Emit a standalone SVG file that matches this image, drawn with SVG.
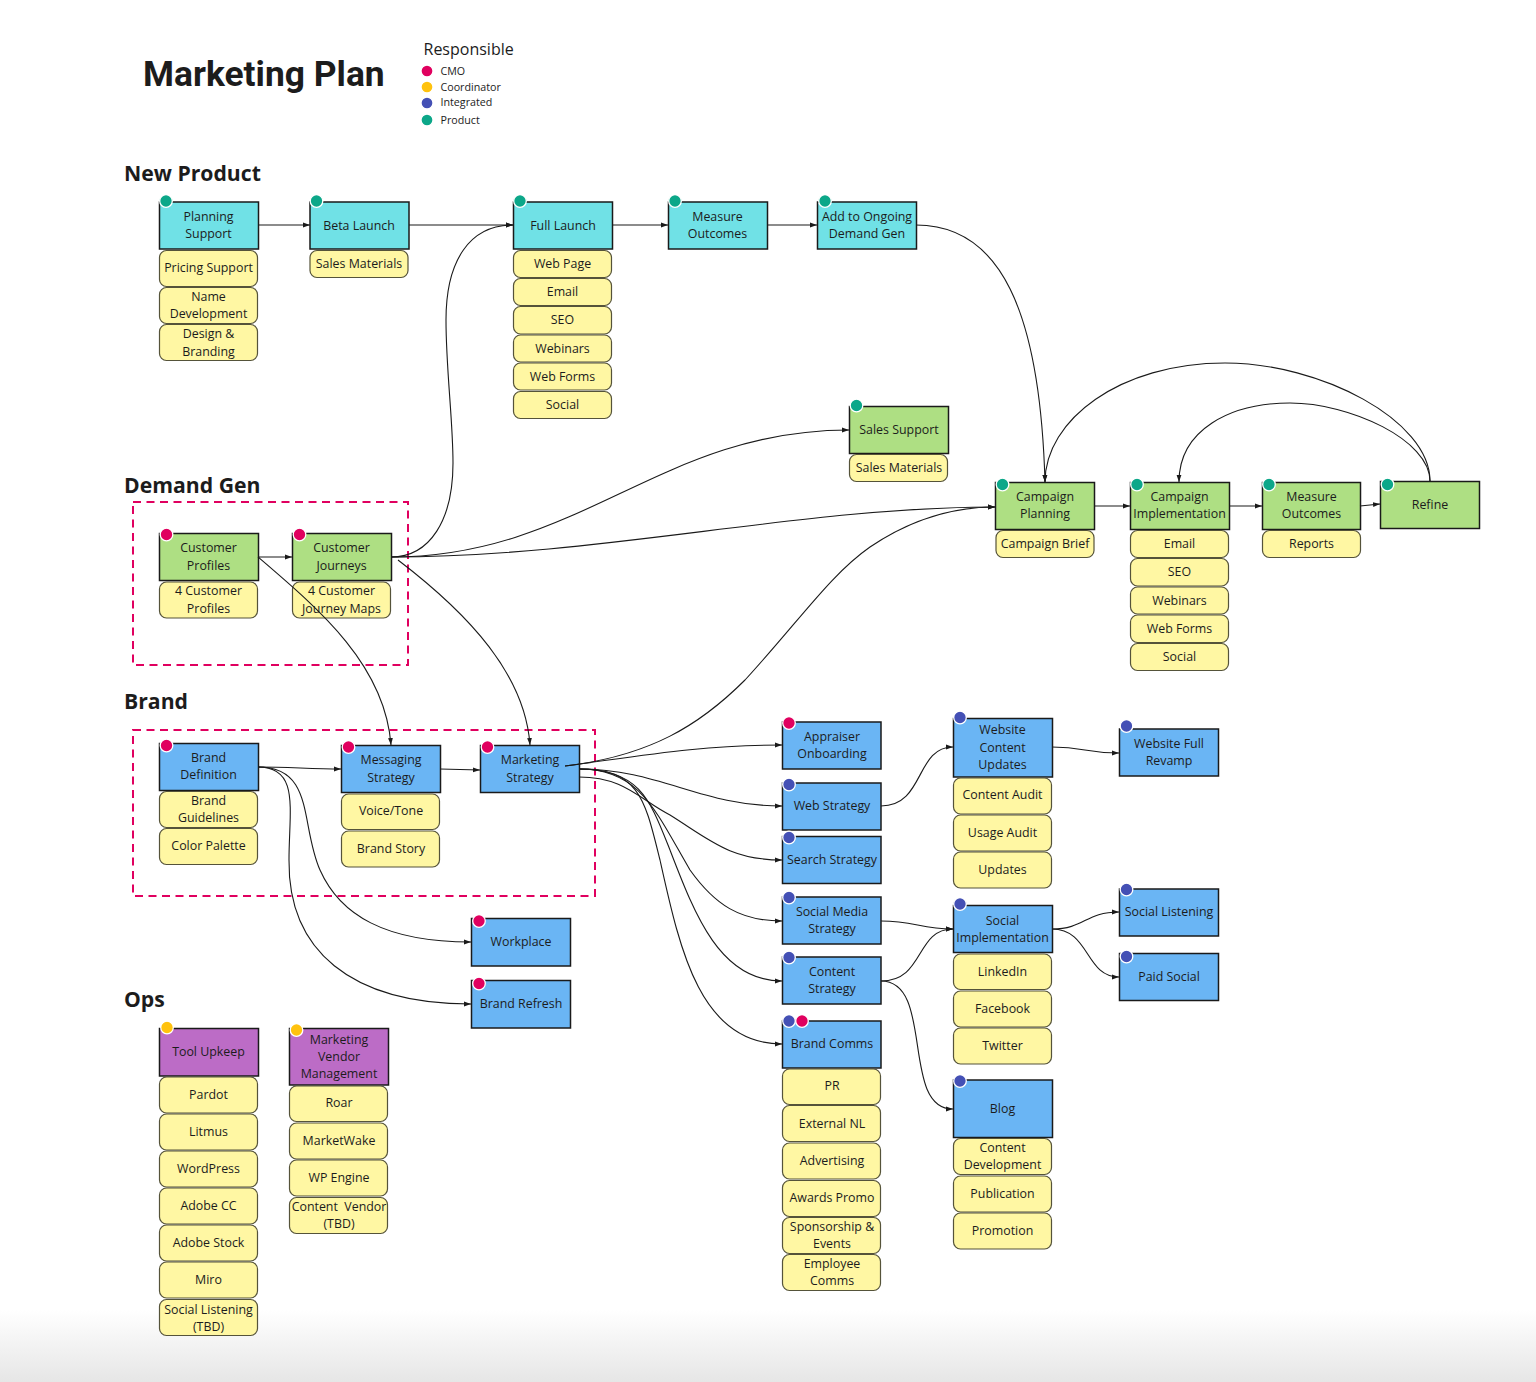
<svg xmlns="http://www.w3.org/2000/svg" width="1536" height="1382" viewBox="0 0 1536 1382">
<style>
text{font-family:"Open Sans","Noto Sans",sans-serif;font-size:12.4px;fill:#1c1c1c;text-anchor:middle}
.title{font-family:Roboto,sans-serif;font-weight:700;font-size:35.4px;text-anchor:start}
.h{font-weight:700;font-size:21.2px;text-anchor:start}
.lg{font-size:10.7px;text-anchor:start}
.n{stroke:#1a1a1a;stroke-width:1.5}
.c{fill:#70E1E6}.g{fill:#AEDF83}.b{fill:#6AB5F4}.p{fill:#BC6CC6}
.y{fill:#FFF7A3;stroke:#55533a;stroke-width:1.2}
.d{stroke:#fff;stroke-width:1.3}
.r{fill:#E0005F}.o{fill:#FFC20E}.i{fill:#4450B5}.t{fill:#0CA789}
.box{fill:none;stroke:#E0005F;stroke-width:2;stroke-dasharray:8 5.5}
#connectors path{fill:none;stroke:#1a1a1a;stroke-width:1.1;marker-end:url(#a)}
</style>
<defs>
<marker id="a" markerWidth="8" markerHeight="6" refX="7" refY="3" orient="auto" markerUnits="userSpaceOnUse"><path d="M0 .6L7 3L0 5.4z" fill="#1a1a1a"/></marker>
<linearGradient id="bg" x1="0" y1="0" x2="0" y2="1"><stop offset="0" stop-color="#fff"/><stop offset="1" stop-color="#e6e6e6"/></linearGradient>
</defs>
<rect width="1536" height="1382" fill="#fff"/>
<rect y="1310" width="1536" height="72" fill="url(#bg)"/>
<text class="title" x="143" y="85.500">Marketing Plan</text>
<text x="423.500" y="55" style="font-size:16px;text-anchor:start">Responsible</text>
<g id="legend">
<circle class="d r" cx="427" cy="71" r="6"/><text class="lg" x="440.500" y="75">CMO</text>
<circle class="d o" cx="427" cy="87" r="6"/><text class="lg" x="440.500" y="91">Coordinator</text>
<circle class="d i" cx="427" cy="103" r="6"/><text class="lg" x="440.500" y="106">Integrated</text>
<circle class="d t" cx="427" cy="120" r="6"/><text class="lg" x="440.500" y="124">Product</text>
</g>
<text class="h" x="124" y="181">New Product</text>
<text class="h" x="124" y="493">Demand Gen</text>
<text class="h" x="124" y="709">Brand</text>
<text class="h" x="124" y="1007">Ops</text>
<rect class="box" x="133" y="502" width="275" height="163"/>
<rect class="box" x="133" y="730" width="462" height="166"/>
<g id="nodes">
<g id="planning-support"><rect class="n c" x="159.500" y="202" width="99" height="47"/><circle class="d t" cx="166" cy="201" r="6.300"/><text x="208.500" y="221">Planning</text><text x="208.500" y="238">Support</text></g>
<g id="pricing-support"><rect class="y" x="159.500" y="250.500" width="98" height="36" rx="7"/><text x="208.500" y="272">Pricing Support</text></g>
<g id="name-development"><rect class="y" x="159.500" y="287.500" width="98" height="36" rx="7"/><text x="208.500" y="301">Name</text><text x="208.500" y="318">Development</text></g>
<g id="design-branding"><rect class="y" x="159.500" y="324.500" width="98" height="36" rx="7"/><text x="208.500" y="338">Design &amp;</text><text x="208.500" y="356">Branding</text></g>
<g id="beta-launch"><rect class="n c" x="310" y="202" width="99" height="47"/><circle class="d t" cx="316.500" cy="201" r="6.300"/><text x="359" y="230">Beta Launch</text></g>
<g id="sales-materials-1"><rect class="y" x="310" y="250.500" width="98" height="27" rx="7"/><text x="359" y="268">Sales Materials</text></g>
<g id="full-launch"><rect class="n c" x="513.500" y="202" width="99" height="47"/><circle class="d t" cx="520" cy="201" r="6.300"/><text x="563" y="230">Full Launch</text></g>
<g id="web-page"><rect class="y" x="513.500" y="250.500" width="98" height="27" rx="7"/><text x="562.500" y="268">Web Page</text></g>
<g id="email-1"><rect class="y" x="513.500" y="278.500" width="98" height="27" rx="7"/><text x="562.500" y="296">Email</text></g>
<g id="seo-1"><rect class="y" x="513.500" y="306.500" width="98" height="27.500" rx="7"/><text x="562.500" y="324">SEO</text></g>
<g id="webinars-1"><rect class="y" x="513.500" y="335" width="98" height="27" rx="7"/><text x="562.500" y="353">Webinars</text></g>
<g id="web-forms-1"><rect class="y" x="513.500" y="363" width="98" height="27" rx="7"/><text x="562.500" y="381">Web Forms</text></g>
<g id="social-1"><rect class="y" x="513.500" y="391.500" width="98" height="27" rx="7"/><text x="562.500" y="409">Social</text></g>
<g id="measure-outcomes-1"><rect class="n c" x="668.500" y="202" width="99" height="47"/><circle class="d t" cx="675" cy="201" r="6.300"/><text x="717.500" y="221">Measure</text><text x="717.500" y="238">Outcomes</text></g>
<g id="add-ongoing"><rect class="n c" x="817.500" y="202" width="99" height="47"/><circle class="d t" cx="825" cy="201" r="6.300"/><text x="867" y="221">Add to Ongoing</text><text x="867" y="238">Demand Gen</text></g>
<g id="sales-support"><rect class="n g" x="849.500" y="406.500" width="99" height="47"/><circle class="d t" cx="856.500" cy="405.500" r="6.300"/><text x="899" y="434">Sales Support</text></g>
<g id="sales-materials-2"><rect class="y" x="849.500" y="454.500" width="98" height="27" rx="7"/><text x="899" y="472">Sales Materials</text></g>
<g id="campaign-planning"><rect class="n g" x="995.500" y="482.500" width="99" height="47"/><circle class="d t" cx="1002.500" cy="484.500" r="6.300"/><text x="1045" y="501">Campaign</text><text x="1045" y="518">Planning</text></g>
<g id="campaign-brief"><rect class="y" x="996" y="530.500" width="98" height="27" rx="7"/><text x="1045" y="548">Campaign Brief</text></g>
<g id="campaign-implementation"><rect class="n g" x="1130.500" y="482.500" width="99" height="47"/><circle class="d t" cx="1137" cy="484.500" r="6.300"/><text x="1179.500" y="501">Campaign</text><text x="1179.500" y="518">Implementation</text></g>
<g id="email-2"><rect class="y" x="1130.500" y="530.500" width="98" height="27" rx="7"/><text x="1179.500" y="548">Email</text></g>
<g id="seo-2"><rect class="y" x="1130.500" y="558.500" width="98" height="27.500" rx="7"/><text x="1179.500" y="576">SEO</text></g>
<g id="webinars-2"><rect class="y" x="1130.500" y="587" width="98" height="27" rx="7"/><text x="1179.500" y="605">Webinars</text></g>
<g id="web-forms-2"><rect class="y" x="1130.500" y="615" width="98" height="27.500" rx="7"/><text x="1179.500" y="633">Web Forms</text></g>
<g id="social-2"><rect class="y" x="1130.500" y="643.500" width="98" height="27" rx="7"/><text x="1179.500" y="661">Social</text></g>
<g id="measure-outcomes-2"><rect class="n g" x="1262.500" y="482.500" width="98" height="47"/><circle class="d t" cx="1269" cy="484.500" r="6.300"/><text x="1311.500" y="501">Measure</text><text x="1311.500" y="518">Outcomes</text></g>
<g id="reports"><rect class="y" x="1262.500" y="530.500" width="98" height="27" rx="7"/><text x="1311.500" y="548">Reports</text></g>
<g id="refine"><rect class="n g" x="1380.500" y="481.500" width="99" height="47"/><circle class="d t" cx="1387.500" cy="484.500" r="6.300"/><text x="1430" y="509">Refine</text></g>
<g id="customer-profiles"><rect class="n g" x="159.500" y="533.500" width="99" height="47"/><circle class="d r" cx="166.500" cy="534.500" r="6.300"/><text x="208.500" y="552">Customer</text><text x="208.500" y="570">Profiles</text></g>
<g id="customer-profiles-4"><rect class="y" x="159.500" y="582" width="98" height="36" rx="7"/><text x="208.500" y="595">4 Customer</text><text x="208.500" y="613">Profiles</text></g>
<g id="customer-journeys"><rect class="n g" x="292.500" y="533.500" width="99" height="47"/><circle class="d r" cx="299.500" cy="534.500" r="6.300"/><text x="341.500" y="552">Customer</text><text x="341.500" y="570">Journeys</text></g>
<g id="journey-maps"><rect class="y" x="292.500" y="582" width="98" height="36" rx="7"/><text x="341.500" y="595">4 Customer</text><text x="341.500" y="613">Journey Maps</text></g>
<g id="brand-definition"><rect class="n b" x="159.500" y="743.500" width="99" height="47"/><circle class="d r" cx="166.500" cy="745.500" r="6.300"/><text x="208.500" y="762">Brand</text><text x="208.500" y="779">Definition</text></g>
<g id="brand-guidelines"><rect class="y" x="159.500" y="791.500" width="98" height="36" rx="7"/><text x="208.500" y="805">Brand</text><text x="208.500" y="822">Guidelines</text></g>
<g id="color-palette"><rect class="y" x="159.500" y="828.500" width="98" height="36" rx="7"/><text x="208.500" y="850">Color Palette</text></g>
<g id="messaging-strategy"><rect class="n b" x="341.500" y="745.500" width="99" height="47"/><circle class="d r" cx="348.500" cy="747" r="6.300"/><text x="391" y="764">Messaging</text><text x="391" y="782">Strategy</text></g>
<g id="voice-tone"><rect class="y" x="341.500" y="794" width="98" height="35.500" rx="7"/><text x="391" y="815">Voice/Tone</text></g>
<g id="brand-story"><rect class="y" x="341.500" y="831" width="98" height="36" rx="7"/><text x="391" y="853">Brand Story</text></g>
<g id="marketing-strategy"><rect class="n b" x="480.500" y="745.500" width="99" height="47"/><circle class="d r" cx="487.500" cy="747" r="6.300"/><text x="530" y="764">Marketing</text><text x="530" y="782">Strategy</text></g>
<g id="appraiser-onboarding"><rect class="n b" x="782.500" y="722" width="98.500" height="47"/><circle class="d r" cx="789" cy="723" r="6.300"/><text x="832" y="741">Appraiser</text><text x="832" y="758">Onboarding</text></g>
<g id="web-strategy"><rect class="n b" x="782.500" y="783" width="98.500" height="47"/><circle class="d i" cx="789" cy="784.500" r="6.300"/><text x="832" y="810">Web Strategy</text></g>
<g id="search-strategy"><rect class="n b" x="782.500" y="836.500" width="98.500" height="47"/><circle class="d i" cx="789" cy="837.500" r="6.300"/><text x="832" y="864">Search Strategy</text></g>
<g id="social-media-strategy"><rect class="n b" x="782.500" y="897" width="98.500" height="47"/><circle class="d i" cx="789" cy="897.500" r="6.300"/><text x="832" y="916">Social Media</text><text x="832" y="933">Strategy</text></g>
<g id="content-strategy"><rect class="n b" x="782.500" y="957" width="98.500" height="47"/><circle class="d i" cx="789" cy="957.500" r="6.300"/><text x="832" y="976">Content</text><text x="832" y="993">Strategy</text></g>
<g id="brand-comms"><rect class="n b" x="782.500" y="1021" width="98.500" height="47"/><circle class="d i" cx="789" cy="1021" r="6.300"/><circle class="d r" cx="802" cy="1021" r="6.300"/><text x="832" y="1048">Brand Comms</text></g>
<g id="pr"><rect class="y" x="782.500" y="1069" width="98" height="35.500" rx="7"/><text x="832" y="1090">PR</text></g>
<g id="external-nl"><rect class="y" x="782.500" y="1105.500" width="98" height="36" rx="7"/><text x="832" y="1128">External NL</text></g>
<g id="advertising"><rect class="y" x="782.500" y="1143" width="98" height="36" rx="7"/><text x="832" y="1165">Advertising</text></g>
<g id="awards-promo"><rect class="y" x="782.500" y="1180.500" width="98" height="36" rx="7"/><text x="832" y="1202">Awards Promo</text></g>
<g id="sponsorship"><rect class="y" x="782.500" y="1217.500" width="98" height="36" rx="7"/><text x="832" y="1231">Sponsorship &amp;</text><text x="832" y="1248">Events</text></g>
<g id="employee-comms"><rect class="y" x="782.500" y="1254.500" width="98" height="36" rx="7"/><text x="832" y="1268">Employee</text><text x="832" y="1285">Comms</text></g>
<g id="website-content-updates"><rect class="n b" x="953.500" y="718.500" width="99" height="58.500"/><circle class="d i" cx="960" cy="717.500" r="6.300"/><text x="1002.500" y="734">Website</text><text x="1002.500" y="752">Content</text><text x="1002.500" y="769">Updates</text></g>
<g id="content-audit"><rect class="y" x="953.500" y="778" width="98" height="36" rx="7"/><text x="1002.500" y="799">Content Audit</text></g>
<g id="usage-audit"><rect class="y" x="953.500" y="815" width="98" height="36" rx="7"/><text x="1002.500" y="837">Usage Audit</text></g>
<g id="updates"><rect class="y" x="953.500" y="852" width="98" height="36" rx="7"/><text x="1002.500" y="874">Updates</text></g>
<g id="website-full-revamp"><rect class="n b" x="1119.500" y="729" width="99" height="47"/><circle class="d i" cx="1126.500" cy="726" r="6.300"/><text x="1169" y="748">Website Full</text><text x="1169" y="765">Revamp</text></g>
<g id="social-listening"><rect class="n b" x="1119.500" y="889" width="99" height="47"/><circle class="d i" cx="1126.500" cy="889.500" r="6.300"/><text x="1169" y="916">Social Listening</text></g>
<g id="paid-social"><rect class="n b" x="1119.500" y="953.500" width="99" height="47"/><circle class="d i" cx="1126.500" cy="956.500" r="6.300"/><text x="1169" y="981">Paid Social</text></g>
<g id="social-implementation"><rect class="n b" x="953.500" y="905.500" width="99" height="47"/><circle class="d i" cx="960" cy="904" r="6.300"/><text x="1002.500" y="925">Social</text><text x="1002.500" y="942">Implementation</text></g>
<g id="linkedin"><rect class="y" x="953.500" y="954" width="98" height="35.500" rx="7"/><text x="1002.500" y="976">LinkedIn</text></g>
<g id="facebook"><rect class="y" x="953.500" y="991" width="98" height="36" rx="7"/><text x="1002.500" y="1013">Facebook</text></g>
<g id="twitter"><rect class="y" x="953.500" y="1028" width="98" height="36" rx="7"/><text x="1002.500" y="1050">Twitter</text></g>
<g id="blog"><rect class="n b" x="953.500" y="1080" width="99" height="57.500"/><circle class="d i" cx="960" cy="1081" r="6.300"/><text x="1002.500" y="1113">Blog</text></g>
<g id="content-development"><rect class="y" x="953.500" y="1138.500" width="98" height="36" rx="7"/><text x="1002.500" y="1152">Content</text><text x="1002.500" y="1169">Development</text></g>
<g id="publication"><rect class="y" x="953.500" y="1176" width="98" height="36" rx="7"/><text x="1002.500" y="1198">Publication</text></g>
<g id="promotion"><rect class="y" x="953.500" y="1213" width="98" height="36" rx="7"/><text x="1002.500" y="1235">Promotion</text></g>
<g id="workplace"><rect class="n b" x="471.500" y="918.500" width="99" height="47.500"/><circle class="d r" cx="479" cy="921" r="6.300"/><text x="521" y="946">Workplace</text></g>
<g id="brand-refresh"><rect class="n b" x="471.500" y="980.500" width="99" height="47.500"/><circle class="d r" cx="479" cy="983.500" r="6.300"/><text x="521" y="1008">Brand Refresh</text></g>
<g id="tool-upkeep"><rect class="n p" x="159.500" y="1028.500" width="99" height="47.500"/><circle class="d o" cx="167" cy="1027.500" r="6.300"/><text x="208.500" y="1056">Tool Upkeep</text></g>
<g id="pardot"><rect class="y" x="159.500" y="1077" width="98" height="36" rx="7"/><text x="208.500" y="1099">Pardot</text></g>
<g id="litmus"><rect class="y" x="159.500" y="1114" width="98" height="36" rx="7"/><text x="208.500" y="1136">Litmus</text></g>
<g id="wordpress"><rect class="y" x="159.500" y="1151" width="98" height="36" rx="7"/><text x="208.500" y="1173">WordPress</text></g>
<g id="adobe-cc"><rect class="y" x="159.500" y="1188" width="98" height="36" rx="7"/><text x="208.500" y="1210">Adobe CC</text></g>
<g id="adobe-stock"><rect class="y" x="159.500" y="1225" width="98" height="36" rx="7"/><text x="208.500" y="1247">Adobe Stock</text></g>
<g id="miro"><rect class="y" x="159.500" y="1262" width="98" height="36" rx="7"/><text x="208.500" y="1284">Miro</text></g>
<g id="social-listening-tbd"><rect class="y" x="159.500" y="1299.500" width="98" height="36" rx="7"/><text x="208.500" y="1314">Social Listening</text><text x="208.500" y="1331">(TBD)</text></g>
<g id="vendor-management"><rect class="n p" x="289.500" y="1028.500" width="99" height="56.500"/><circle class="d o" cx="296.500" cy="1030" r="6.300"/><text x="339" y="1044">Marketing</text><text x="339" y="1061">Vendor</text><text x="339" y="1078">Management</text></g>
<g id="roar"><rect class="y" x="289.500" y="1086" width="98" height="35.500" rx="7"/><text x="339" y="1107">Roar</text></g>
<g id="marketwake"><rect class="y" x="289.500" y="1123" width="98" height="36" rx="7"/><text x="339" y="1145">MarketWake</text></g>
<g id="wp-engine"><rect class="y" x="289.500" y="1160" width="98" height="36" rx="7"/><text x="339" y="1182">WP Engine</text></g>
<g id="content-vendor"><rect class="y" x="289.500" y="1197.500" width="98" height="36" rx="7"/><text x="339" y="1211" style="white-space:pre">Content  Vendor</text><text x="339" y="1228">(TBD)</text></g>
</g>
<g id="connectors">
<path d="M258 225H310"/><path d="M409 225H513"/><path d="M612 225H668"/><path d="M767 225H817"/>
<path d="M916 225C1000 225 1040 310 1045 482"/>
<path d="M391 557C430 557 453 520 453 463C453 420 446 370 446 320C446 260 470 225 513 225"/>
<path d="M391 557C580 557 660 430 849 430"/>
<path d="M391 557C600 557 800 507 995 507"/>
<path d="M398 560C470 615 525 675 530 745"/>
<path d="M258 557C320 610 385 665 391 745"/>
<path d="M258 557H292"/>
<path d="M258 767C290 767 310 769 341 769"/>
<path d="M440 769L480 770"/>
<path d="M258 767C315 767 300 825 320 870C340 915 385 942 471 942"/>
<path d="M258 767C300 767 289 810 289 860C288 950 350 1004 471 1004"/>
<path d="M565 766C650 756 700 725 745 680C800 620 830 575 870 547C910 520 950 507 995 507"/>
<path d="M565 766C640 756 700 745 782 745"/>
<path d="M579 769C660 769 700 806 782 806"/>
<path d="M579 777C625 777 640 800 670 815C710 840 730 860 782 860"/>
<path d="M579 769C640 769 655 810 690 870C715 905 740 921 782 921"/>
<path d="M579 769C640 769 650 800 670 850C695 915 720 981 782 981"/>
<path d="M579 769C640 769 645 800 660 860C680 950 700 1044 782 1044"/>
<path d="M881 806C925 806 915 747 953 747"/>
<path d="M1052 747C1085 747 1085 753 1119 753"/>
<path d="M881 921C915 921 920 929 953 929"/>
<path d="M881 981C925 981 915 929 953 929"/>
<path d="M881 981C935 981 900 1109 953 1109"/>
<path d="M1052 929C1085 929 1085 912 1119 912"/>
<path d="M1052 929C1090 929 1085 977 1119 977"/>
<path d="M1430 481C1430 420 1320 363 1225 363C1120 363 1045 420 1045 482"/>
<path d="M1430 481C1430 440 1350 403 1290 403C1230 403 1179 430 1179 482"/>
<path d="M1094 506H1130"/><path d="M1229 506H1262"/><path d="M1360 506L1380 504"/>
</g>
</svg>
